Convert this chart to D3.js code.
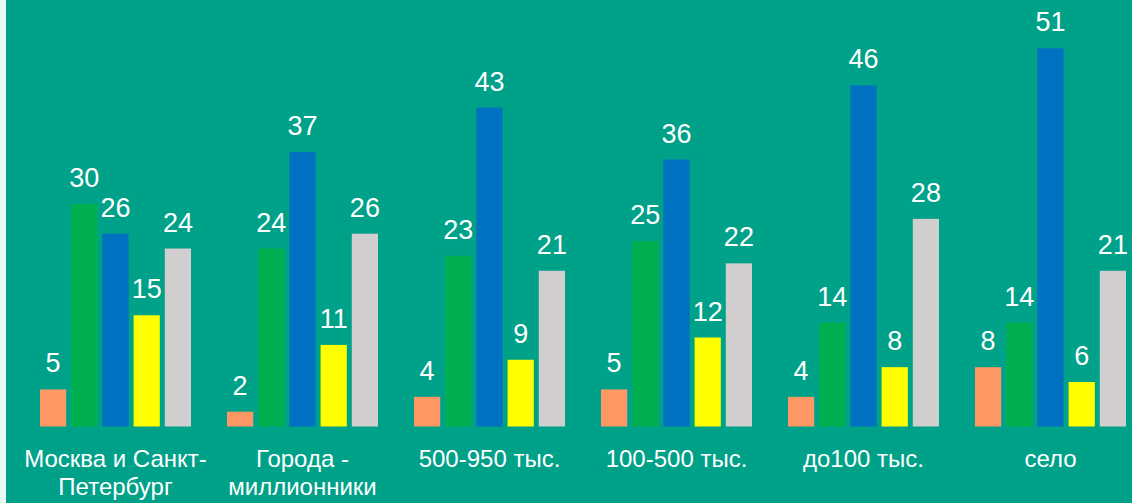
<!DOCTYPE html>
<meta charset="utf-8">
<html>
<head>
  <style>
    body { margin: 0; background: #e6faf3; }
    svg { display: block; }
    .val, .cat {
      font-family: 'Liberation Sans', Arial, sans-serif;
      fill: #ffffff;
      text-anchor: middle;
    }
    .val { font-size: 27px; }
    .cat { font-size: 24px; }
  </style>
  <script src="https://d3js.org/d3.v7.min.js"></script>
</head>
<body>
  <svg width="1132" height="503"></svg>
  <script>
    // categories (two-line labels split by "|")
    var categories = ["Москва и Санкт-|Петербург", "Города -|миллионники", "500-950 тыс.",
                      "100-500 тыс.", "до100 тыс.", "село"];

    // five series, one value per category
    var s1 = [5, 2, 4, 5, 4, 8];
    var s2 = [30, 24, 23, 25, 14, 14];
    var s3 = [26, 37, 43, 36, 46, 51];
    var s4 = [15, 11, 9, 12, 8, 6];
    var s5 = [24, 26, 21, 22, 28, 21];
    var seriesColors = ["#fd9865", "#00b050", "#0070c0", "#ffff00", "#d0cece"];

    var series = [s1, s2, s3, s4, s5];

    var svg = d3.select("svg");

    // light strip at the left, teal panel for the rest
    svg.append("rect")
      .attr("x", 6).attr("y", 0)
      .attr("width", 1126).attr("height", 503)
      .attr("fill", "#00a189");

    var baseline = 426.5;

    // x for groups, and for bars inside a group
    var x0 = d3.scaleBand()
      .domain(d3.range(categories.length))
      .range([40, 1126])
      .paddingInner(0.1925)
      .paddingOuter(0);

    var x1 = d3.scaleBand()
      .domain(d3.range(series.length))
      .range([0, x0.bandwidth()])
      .paddingInner(0.16);

    var y = d3.scaleLinear().domain([0, 51]).range([baseline, 48.3]);

    var group = svg.selectAll(".grp")
      .data(categories)
      .enter().append("g")
        .attr("class", "grp")
        .attr("transform", function(d, i) { return "translate(" + x0(i) + ",0)"; });

    group.each(function(c, i) {
      var g = d3.select(this);
      var vals = series.map(function(s) { return s[i]; });

      g.selectAll("rect")
        .data(vals)
        .enter().append("rect")
          .attr("x", function(d, k) { return x1(k); })
          .attr("y", function(d) { return y(d); })
          .attr("width", x1.bandwidth())
          .attr("height", function(d) { return baseline - y(d); })
          .attr("fill", function(d, k) { return seriesColors[k]; });

      g.selectAll(".val")
        .data(vals)
        .enter().append("text")
          .attr("class", "val")
          .attr("x", function(d, k) { return x1(k) + x1.bandwidth() / 2; })
          .attr("y", function(d) { return y(d) - 17; })
          .text(function(d) { return d; });

      var lines = c.split("|");
      g.selectAll(".cat")
        .data(lines)
        .enter().append("text")
          .attr("class", "cat")
          .attr("x", x0.bandwidth() / 2)
          .attr("y", function(d, k) { return 467 + k * 28; })
          .text(function(d) { return d; });
    });
  </script>
</body>
</html>
